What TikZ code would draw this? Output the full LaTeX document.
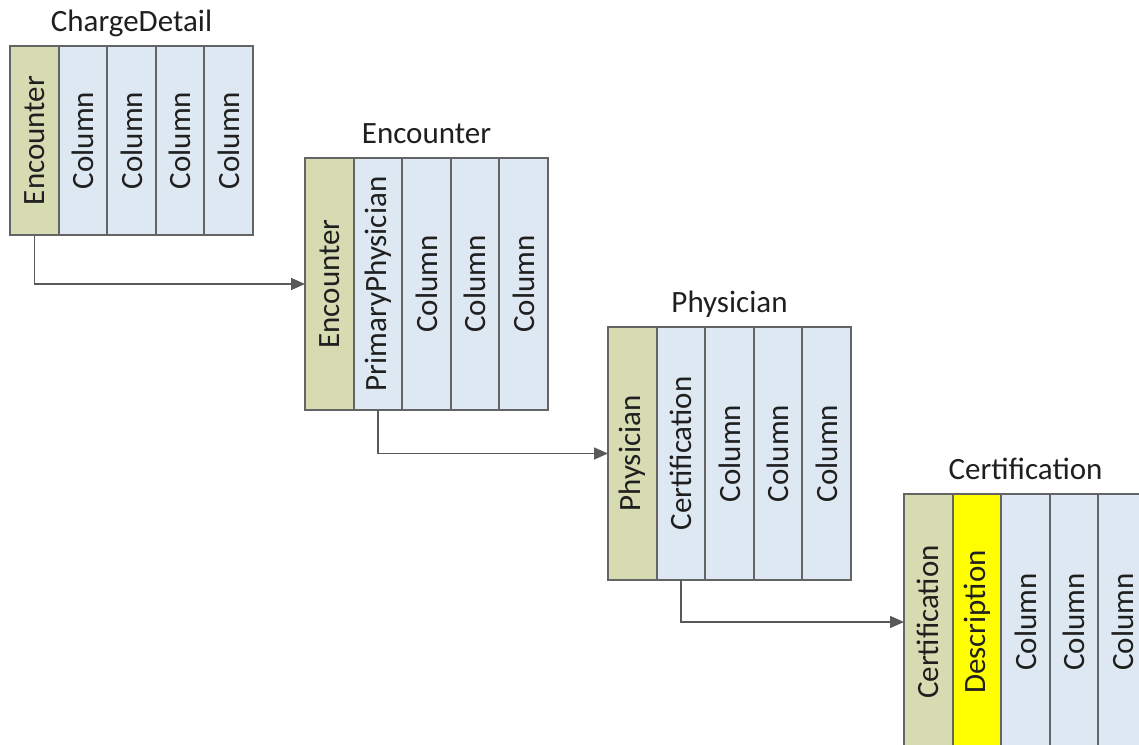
\documentclass[tikz,border=0pt]{standalone}
\usepackage{fontspec}
\setmainfont{Carlito}
\usetikzlibrary{arrows.meta}
\usetikzlibrary{positioning}
\definecolor{keyfill}{HTML}{D7DBB2}
\definecolor{colfill}{HTML}{DEE8F2}
\definecolor{descfill}{HTML}{FFFF00}
\definecolor{linegray}{HTML}{646464}
\definecolor{conngray}{HTML}{595959}

\begin{document}
\begin{tikzpicture}[
    x=0.5pt, y=-0.5pt,
    node distance=0pt,
    col/.style={
        draw=linegray, line width=1pt, fill=colfill,
        minimum width=24.3pt, inner sep=0pt, outer sep=0pt,
        text=black!88,
        font=\fontsize{15.5}{18}\selectfont
    },
    keycol/.style={col, fill=keyfill},
    desccol/.style={col, fill=descfill},
    title/.style={
        inner sep=0pt, text depth=0pt, text=black!88,
        font=\fontsize{15.5}{18}\selectfont
    },
    conn/.style={
        draw=conngray, line width=0.75pt,
        -{Triangle[length=7pt,width=6pt]}
    }
]
\useasboundingbox (0,0) rectangle (1139,744);

% ChargeDetail
\node[keycol, minimum height=94.5pt, anchor=north west] (cdEnc) at (10,46) {\rotatebox{90}{Encounter}};
\node[col, minimum height=94.5pt, right=of cdEnc] (cdCol1) {\rotatebox{90}{Column}};
\node[col, minimum height=94.5pt, right=of cdCol1] (cdCol2) {\rotatebox{90}{Column}};
\node[col, minimum height=94.5pt, right=of cdCol2] (cdCol3) {\rotatebox{90}{Column}};
\node[col, minimum height=94.5pt, right=of cdCol3] (cdCol4) {\rotatebox{90}{Column}};
\node[title, above=7pt of cdCol2] (cdTitle) {ChargeDetail};

% Encounter
\node[keycol, minimum height=126pt, anchor=north west] (enEnc) at (305,158) {\rotatebox{90}{Encounter}};
\node[col, minimum height=126pt, right=of enEnc] (enPhys) {\rotatebox{90}{PrimaryPhysician}};
\node[col, minimum height=126pt, right=of enPhys] (enCol1) {\rotatebox{90}{Column}};
\node[col, minimum height=126pt, right=of enCol1] (enCol2) {\rotatebox{90}{Column}};
\node[col, minimum height=126pt, right=of enCol2] (enCol3) {\rotatebox{90}{Column}};
\node[title, above=7pt of enCol1] (enTitle) {Encounter};

% Physician
\node[keycol, minimum height=126.5pt, anchor=north west] (phPhys) at (608,327) {\rotatebox{90}{Physician}};
\node[col, minimum height=126.5pt, right=of phPhys] (phCert) {\rotatebox{90}{Certification}};
\node[col, minimum height=126.5pt, right=of phCert] (phCol1) {\rotatebox{90}{Column}};
\node[col, minimum height=126.5pt, right=of phCol1] (phCol2) {\rotatebox{90}{Column}};
\node[col, minimum height=126.5pt, right=of phCol2] (phCol3) {\rotatebox{90}{Column}};
\node[title, above=7pt of phCol1] (phTitle) {Physician};

% Certification
\node[keycol, minimum height=128pt, anchor=north west] (ceCert) at (904,494) {\rotatebox{90}{Certification}};
\node[desccol, minimum height=128pt, right=of ceCert] (ceDesc) {\rotatebox{90}{Description}};
\node[col, minimum height=128pt, right=of ceDesc] (ceCol1) {\rotatebox{90}{Column}};
\node[col, minimum height=128pt, right=of ceCol1] (ceCol2) {\rotatebox{90}{Column}};
\node[col, minimum height=128pt, right=of ceCol2] (ceCol3) {\rotatebox{90}{Column}};
\node[title, above=7pt of ceCol1] (ceTitle) {Certification};

% links
\draw[conn] (cdEnc.south) |- (enEnc.west);
\draw[conn] (enPhys.south) |- (phPhys.west);
\draw[conn] (phCert.south) |- (ceCert.west);
\end{tikzpicture}
\end{document}
